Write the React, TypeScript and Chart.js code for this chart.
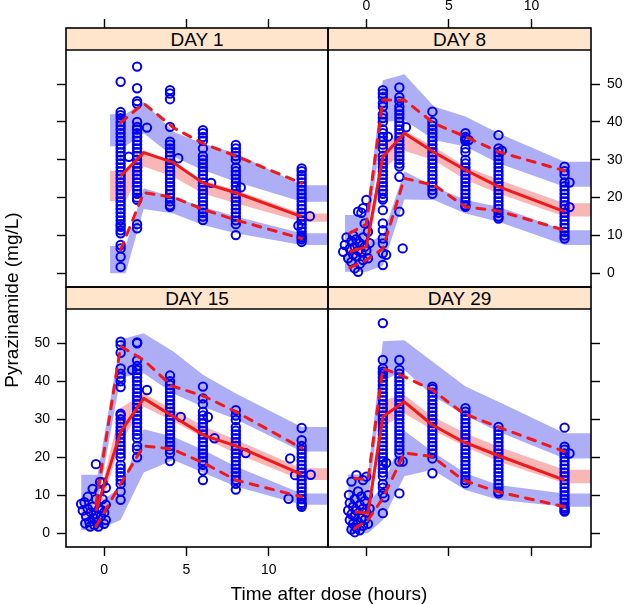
import React, { useEffect, useRef } from 'react';
import { Chart, registerables } from 'chart.js';

Chart.register(...registerables);

// ---------- shared axis data ----------
const X_TICKS = [0, 5, 10];
const Y_TICKS = [0, 10, 20, 30, 40, 50];
const X_RANGE = [-2.32, 13.6];
const Y_RANGE = [-3.6, 64.8];
const NOMINAL_TIMES = [1, 2, 4, 6, 8, 12];
const X_TITLE = 'Time after dose (hours)';
const Y_TITLE = 'Pyrazinamide (mg/L)';

// ---------- DAY 1 ----------
const D1_PRE: number[][] = [];
const D1_T1 = [50.6, 42.6, 41.8, 41, 40, 39, 38, 37, 36, 35, 34, 33, 32, 31, 30, 29, 28, 27, 26, 25, 24, 23, 22, 21, 20, 19, 18, 17, 16, 15, 14, 13, 12.3, 11.4, 10.6, 7.5, 6.6, 4.4, 1.7];
const D1_T2 = [54.6, 48.9, 45.5, 44.8, 40, 38.7, 38, 37, 36, 35, 34, 33, 32, 31, 30, 29, 28, 27, 26, 25, 24, 23, 22, 21, 20, 19.4, 13, 11.9];
const D1_T4 = [48.4, 47.5, 46, 38.7, 34.8, 34, 33, 32, 31, 30, 29, 28, 27, 26, 25, 24, 23, 22, 21, 20, 19, 18, 17.6];
const D1_T6 = [37.8, 37, 36, 35, 33, 31, 30, 29, 28, 27, 26, 25, 24, 23, 22, 21, 20, 19, 18, 17, 16, 15, 14.1];
const D1_T8 = [33.9, 33, 32, 31, 30, 28, 27, 26, 25, 24, 23, 22, 21, 20, 19, 18, 17, 16, 15, 14, 13, 10.1];
const D1_T12 = [27.7, 27, 26, 25, 24, 23, 22, 21, 20, 19, 18, 17, 16, 15, 14, 13, 12, 11, 10, 9.5, 9, 8.3];
const D1_EXTRA = [[1.5, 30.8], [2.6, 38.5], [4.5, 30.4], [6.5, 23.9], [8.3, 22.7], [11.8, 12.6], [12.5, 15.1]];
const D1_BAND_T = [0.36, 1.3, 2.4, 4.2, 6, 8, 12, 14];
const D1_P95_LO = [33.6, 33.6, 37, 30.8, 27.3, 24.2, 18.9, 18.9];
const D1_P95_HI = [42, 42, 45.3, 37.4, 34.3, 31.7, 23.3, 23.3];
const D1_P50_LO = [19.1, 19.1, 28.2, 25.5, 21.1, 18.5, 13.6, 13.6];
const D1_P50_HI = [27.1, 27.1, 32.6, 29, 24.6, 22, 15.8, 15.8];
const D1_P05_LO = [0, 0, 17, 15.8, 12.8, 10.6, 7.5, 7.5];
const D1_P05_HI = [7.2, 7.2, 22.5, 20.2, 17.6, 15, 10.6, 10.6];
const D1_LINE_T = [1.0, 2.4, 4.2, 6, 8, 12];
const D1_MED = [25.7, 31.9, 29.3, 23.9, 21.3, 15.0];
const D1_Q95 = [39.8, 44.9, 38.5, 34.3, 31, 23.8];
const D1_Q05 = [6.2, 21.3, 20.1, 16.9, 14.1, 9.2];

// ---------- DAY 8 ----------
const D8_PRE = [[-1.4, 5.7], [-1.3, 7.5], [-1.2, 9.5], [-1.1, 4], [-1.0, 6.5], [-0.9, 8.5], [-0.9, 3], [-0.8, 10], [-0.8, 5], [-0.7, 1.3], [-0.7, 7], [-0.6, 9], [-0.6, 4.5], [-0.5, 0.4], [-0.5, 6], [-0.5, 16.3], [-0.4, 8], [-0.4, 2.5], [-0.3, 16], [-0.3, 5.5], [-0.2, 17.2], [-0.2, 9.5], [-0.2, 3.5], [-0.1, 13.2], [-0.1, 7], [0.0, 19.4], [0.0, 6], [0.1, 11], [0.1, 4], [0.2, 8]];
const D8_T1 = [48.4, 47.5, 46.5, 45, 44, 42, 41, 40, 38, 37, 36, 35, 34, 33, 31, 30, 29, 28, 27, 26, 25, 24, 23, 22, 21, 20, 19.5, 16.7, 13.2, 11.4, 9.2, 7.9, 5.3, 2.2];
const D8_T2 = [49.1, 46.5, 45.5, 44, 43, 42, 41, 40, 39, 38, 37, 36, 35, 34, 33, 32, 31, 30, 29, 28.2, 25.5, 16.3];
const D8_T4 = [42.7, 40, 39, 38, 37, 36, 35, 34, 33, 32, 31, 30, 29, 28, 27, 26, 25, 24, 23, 22, 21];
const D8_T6 = [37, 36, 35.5, 35, 33, 32, 30, 29, 28, 27, 26, 25, 24, 23, 22, 21, 20, 19, 18, 17.6];
const D8_T8 = [36.5, 33, 32, 31, 30, 29, 28, 27, 26, 25, 24, 23, 22, 21, 20, 19, 18, 17, 16, 15, 14.5];
const D8_T12 = [28.2, 27, 26, 24, 23, 22, 21, 20, 19, 18, 17, 16, 15, 14, 13, 12, 11, 10, 9.2];
const D8_EXTRA = [[1.2, 4.9], [1.3, 36.1], [2.2, 6.6], [2.4, 38.6], [6.2, 35.2], [8.2, 32.4], [12.3, 24], [12.3, 17.5]];
const D8_BAND_T = [-1.3, 0.0, 1.0, 2.3, 4.1, 6, 8, 12, 14];
const D8_P95_LO = [8, 8, 40, 40.5, 35.2, 33.5, 29.1, 22.9, 22.9];
const D8_P95_HI = [15.4, 15.4, 51, 52.6, 44.1, 41.4, 37, 29.5, 29.5];
const D8_P50_LO = [4.5, 4.5, 27.3, 32.4, 29.9, 24.7, 21.1, 15, 15];
const D8_P50_HI = [7.5, 7.5, 34, 37.7, 33.4, 28.2, 24.7, 18.5, 18.5];
const D8_P05_LO = [0.4, 0.4, 2, 19.5, 19.4, 15.8, 13.6, 7.5, 7.5];
const D8_P05_HI = [8, 8, 10, 27, 22.9, 19.4, 17.6, 11.4, 11.4];
const D8_LINE_T = [-1.0, 0.0, 1.0, 2.3, 4.1, 6, 8, 12];
const D8_MED = [5.7, 7.0, 30.8, 37.0, 32.0, 27.3, 22.9, 16.3];
const D8_Q95 = [10.6, 13, 45.8, 45.8, 39.6, 36.1, 32.1, 27.1];
const D8_Q05 = [1.5, 3.5, 6.5, 25.1, 23.3, 17.6, 16.5, 11.4];

// ---------- DAY 15 ----------
const D15_PRE = [[-1.4, 7.7], [-1.3, 6], [-1.2, 8.2], [-1.15, 2.6], [-1.1, 4.5], [-1.0, 9.6], [-1.0, 6.5], [-0.9, 3], [-0.85, 1.8], [-0.8, 5.5], [-0.7, 11.7], [-0.7, 7], [-0.6, 4], [-0.6, 2.2], [-0.5, 18.2], [-0.5, 9], [-0.5, 5], [-0.4, 3], [-0.35, 1.8], [-0.3, 11], [-0.3, 6.5], [-0.25, 13.5], [-0.2, 4.5], [-0.15, 6.1], [-0.1, 13.4], [-0.1, 9], [0.0, 2.5], [0.0, 5.5], [0.1, 12], [0.1, 7.5], [0.1, 3.5]];
const D15_T1 = [50.4, 49.5, 47.5, 43.4, 42, 41, 40, 38.5, 31.5, 31, 30, 29, 28, 27, 26, 25, 24, 23, 22, 21, 20, 18, 17, 16, 15, 14, 13, 11, 8.8];
const D15_T2 = [50.2, 50, 45.5, 44, 43, 42, 41, 40, 39, 38, 37, 36, 35, 34, 33, 32, 31, 30, 29, 28, 27, 26, 25, 23, 22, 20];
const D15_T4 = [41.5, 40, 39, 38, 37, 36, 35, 34, 33, 32, 31, 30, 29, 28, 27, 26, 25, 24, 23, 22, 21, 19];
const D15_T6 = [38.6, 35.5, 34, 32, 31, 30, 29, 28, 27, 26, 25, 24, 23, 22, 21, 20, 19, 18, 16.5, 14];
const D15_T8 = [32.4, 31, 29.8, 28, 27, 26, 25, 24, 23, 22, 21, 20, 19, 18, 17, 16, 15, 14, 13, 11.5];
const D15_T12 = [27.7, 24.5, 23, 22, 21, 20, 19, 18, 17, 16, 15, 14, 13, 12, 11, 10, 9, 8, 7.5, 7];
const D15_EXTRA = [[1.7, 43], [2.6, 37.7], [4.65, 30.6], [6.3, 30.6], [6.7, 25], [8.6, 21.1], [11.2, 9.1], [11.3, 19.7], [11.6, 15.3], [12.55, 15.4]];
const D15_BAND_T = [-1.4, -0.4, 1.0, 2.4, 4.2, 6, 8, 12, 14];
const D15_P95_LO = [8, 8, 41, 42.1, 36.8, 33.3, 30, 21.5, 21.5];
const D15_P95_HI = [15.4, 15.4, 51, 52.6, 47.8, 41.7, 36.8, 28, 28];
const D15_P50_LO = [4, 4, 24, 33.3, 29.5, 25.2, 21, 14, 14];
const D15_P50_HI = [7.6, 7.6, 33, 36.8, 32.5, 28.2, 24.6, 17.1, 17.1];
const D15_P05_LO = [0.9, 0.9, 3.5, 16, 19.3, 16, 12.3, 7.5, 7.5];
const D15_P05_HI = [8, 8, 12, 27.4, 25.4, 22, 17.6, 10.5, 10.5];
const D15_LINE_T = [-0.5, 1.0, 2.4, 4.1, 6.1, 8.0, 12];
const D15_MED = [5.9, 26.7, 35.5, 31, 25.7, 23, 15.5];
const D15_Q95 = [7.8, 49.2, 45.6, 38.8, 36, 32, 22.4];
const D15_Q05 = [1.8, 13, 23, 22.2, 18.4, 14, 9.6];

// ---------- DAY 29 ----------
const D29_PRE = [[-1.1, 6], [-1.05, 10.1], [-1.0, 3.5], [-1.0, 8], [-0.9, 13.6], [-0.9, 5], [-0.9, 1], [-0.8, 7], [-0.8, 2.5], [-0.7, 9], [-0.7, 4.5], [-0.7, 0.3], [-0.6, 15.3], [-0.6, 6], [-0.6, 1.5], [-0.5, 11], [-0.5, 3], [-0.4, 7.5], [-0.4, 0.8], [-0.3, 9.7], [-0.3, 4], [-0.2, 14], [-0.2, 6.5], [-0.2, 2], [-0.1, 8.5], [-0.1, 3.5], [0.0, 14.9], [0.0, 5.5], [0.1, 10], [0.1, 2.5], [0.2, 6.5]];
const D29_T1 = [55.3, 45.6, 43.4, 42.5, 42, 41, 40, 39, 38, 37, 36, 35, 34, 33, 32, 31, 30, 29, 28, 27, 26, 25, 24, 23, 22, 21, 20, 19, 18, 17, 16, 15, 13, 12, 10.5, 5.3];
const D29_T2 = [45.6, 43, 42, 41, 40, 39, 38, 37, 36, 35, 34, 33, 32, 31, 30, 29, 28, 27, 26, 25, 24, 23, 22, 21, 18.9, 10.5];
const D29_T4 = [38.6, 38, 37, 36, 35, 34, 33, 32, 31, 30, 29, 28, 27, 26, 25, 24, 23, 22, 21, 19.7, 15.8];
const D29_T6 = [32.9, 32, 31, 30, 29, 28, 27, 26, 25, 24, 23, 22, 21, 20, 19, 18, 17, 16, 15, 14, 13.2];
const D29_T8 = [28, 27, 26, 25, 24, 23, 22, 21, 20, 19, 18, 17, 16, 15, 14, 13, 12, 11, 10.5];
const D29_T12 = [27.8, 22.8, 22, 21, 20, 19, 18, 17, 16, 15, 14, 13, 12, 11, 10, 9, 8, 7, 6.5, 6, 5.7];
const D29_EXTRA = [[1.1, 9.5], [1.2, 18.5], [2.2, 18.9], [12.3, 21]];
const D29_BAND_T = [-1.1, 0.1, 1.0, 2.3, 4.0, 6, 8, 12, 14];
const D29_P95_LO = [8, 8, 40, 43, 36.2, 31, 26.7, 19.7, 19.7];
const D29_P95_HI = [15.5, 15.5, 50.5, 50.8, 45.2, 38.6, 34.6, 26.3, 26.3];
const D29_P50_LO = [4, 4, 28, 31.6, 27.2, 22.8, 18.9, 13.2, 13.2];
const D29_P50_HI = [7.5, 7.5, 35, 36.4, 30.7, 26.3, 22.8, 16.7, 16.7];
const D29_P05_LO = [0, 0, 3.5, 15, 16.7, 11.4, 8.8, 7, 7];
const D29_P05_HI = [8, 8, 12.3, 27, 21.5, 15.8, 12.7, 10.5, 10.5];
const D29_LINE_T = [-0.7, 0.1, 1.0, 2.3, 4.0, 5.85, 7.9, 12];
const D29_MED = [5.7, 5.3, 30.7, 34.6, 28.5, 24.1, 20.6, 14];
const D29_Q95 = [14.5, 14, 43.4, 41.2, 37.7, 31.6, 28.1, 21.5];
const D29_Q05 = [1.3, 3.5, 9.2, 21.1, 20.2, 14, 11, 7];

// ---------- styling / layout ----------
const W = 625;
const H = 604;
const STRIP_H = 22;
const FONT = "'Liberation Sans', Arial, Helvetica, sans-serif";
const BLUE_BAND = '#aeaef6';
const PINK_BAND = '#f8b6b6';
const OBS_BLUE = '#0000f0';
const RED = '#f01818';
const STRIP_BG = '#ffe5cc';

type Panel = {
  title: string;
  pre: number[][];
  cols: number[][];
  extra: number[][];
  bandT: number[];
  p95lo: number[]; p95hi: number[];
  p50lo: number[]; p50hi: number[];
  p05lo: number[]; p05hi: number[];
  lineT: number[];
  med: number[]; q95: number[]; q05: number[];
};

const PANELS: Panel[] = [
  { title: 'DAY 1', pre: D1_PRE, cols: [D1_T1, D1_T2, D1_T4, D1_T6, D1_T8, D1_T12], extra: D1_EXTRA, bandT: D1_BAND_T, p95lo: D1_P95_LO, p95hi: D1_P95_HI, p50lo: D1_P50_LO, p50hi: D1_P50_HI, p05lo: D1_P05_LO, p05hi: D1_P05_HI, lineT: D1_LINE_T, med: D1_MED, q95: D1_Q95, q05: D1_Q05 },
  { title: 'DAY 8', pre: D8_PRE, cols: [D8_T1, D8_T2, D8_T4, D8_T6, D8_T8, D8_T12], extra: D8_EXTRA, bandT: D8_BAND_T, p95lo: D8_P95_LO, p95hi: D8_P95_HI, p50lo: D8_P50_LO, p50hi: D8_P50_HI, p05lo: D8_P05_LO, p05hi: D8_P05_HI, lineT: D8_LINE_T, med: D8_MED, q95: D8_Q95, q05: D8_Q05 },
  { title: 'DAY 15', pre: D15_PRE, cols: [D15_T1, D15_T2, D15_T4, D15_T6, D15_T8, D15_T12], extra: D15_EXTRA, bandT: D15_BAND_T, p95lo: D15_P95_LO, p95hi: D15_P95_HI, p50lo: D15_P50_LO, p50hi: D15_P50_HI, p05lo: D15_P05_LO, p05hi: D15_P05_HI, lineT: D15_LINE_T, med: D15_MED, q95: D15_Q95, q05: D15_Q05 },
  { title: 'DAY 29', pre: D29_PRE, cols: [D29_T1, D29_T2, D29_T4, D29_T6, D29_T8, D29_T12], extra: D29_EXTRA, bandT: D29_BAND_T, p95lo: D29_P95_LO, p95hi: D29_P95_HI, p50lo: D29_P50_LO, p50hi: D29_P50_HI, p05lo: D29_P05_LO, p05hi: D29_P05_HI, lineT: D29_LINE_T, med: D29_MED, q95: D29_Q95, q05: D29_Q05 },
];

type Lay = { area: number[]; xPos: 'top' | 'bottom'; yPos: 'left' | 'right'; xLabels: boolean; yLabels: boolean };
const LAYOUTS: Lay[] = [
  { area: [66, 28, 328, 287], xPos: 'top', yPos: 'left', xLabels: false, yLabels: false },
  { area: [328, 28, 591, 287], xPos: 'top', yPos: 'right', xLabels: true, yLabels: true },
  { area: [66, 287, 328, 547], xPos: 'bottom', yPos: 'left', xLabels: true, yLabels: true },
  { area: [328, 287, 591, 547], xPos: 'bottom', yPos: 'right', xLabels: false, yLabels: false },
];

const pts = (xs: number[], ys: number[]) => xs.map((x, i) => ({ x, y: ys[i] }));

function buildDatasets(p: Panel): any[] {
  const obs = [
    ...p.pre.map(([x, y]) => ({ x, y })),
    ...NOMINAL_TIMES.flatMap((t, i) => p.cols[i].map((y) => ({ x: t, y }))),
    ...p.extra.map(([x, y]) => ({ x, y })),
  ];
  const band = (lo: number[], hi: number[], color: string, order: number) => [
    { type: 'line', data: pts(p.bandT, lo), borderColor: 'transparent', borderWidth: 0, pointRadius: 0, fill: false, order },
    { type: 'line', data: pts(p.bandT, hi), borderColor: 'transparent', borderWidth: 0, pointRadius: 0, fill: '-1', backgroundColor: color, order },
  ];
  const redLine = (ys: number[], dashed: boolean) => ({
    type: 'line',
    data: pts(p.lineT, ys),
    borderColor: RED,
    borderWidth: 3,
    borderDash: dashed ? [8, 8] : [],
    borderCapStyle: dashed ? 'round' : 'butt',
    borderJoinStyle: 'round',
    pointRadius: 0,
    fill: false,
    order: 1,
  });
  return [
    ...band(p.p95lo, p.p95hi, BLUE_BAND, 5),
    ...band(p.p05lo, p.p05hi, BLUE_BAND, 5),
    ...band(p.p50lo, p.p50hi, PINK_BAND, 4),
    {
      type: 'scatter',
      data: obs,
      pointStyle: 'circle',
      pointRadius: 4.2,
      pointBorderWidth: 2,
      pointBackgroundColor: 'rgba(0,0,0,0)',
      pointBorderColor: OBS_BLUE,
      borderColor: OBS_BLUE,
      backgroundColor: 'rgba(0,0,0,0)',
      order: 2,
    },
    redLine(p.med, false),
    redLine(p.q95, true),
    redLine(p.q05, true),
  ];
}

const framePlugin = {
  id: 'latticeFrame',
  afterDatasetsDraw(chart: any) {
    const { ctx, chartArea: a } = chart;
    ctx.save();
    ctx.strokeStyle = '#000';
    ctx.lineWidth = 1.6;
    ctx.strokeRect(a.left, a.top, a.right - a.left, a.bottom - a.top);
    ctx.beginPath();
    ctx.moveTo(a.left, a.top + STRIP_H);
    ctx.lineTo(a.right, a.top + STRIP_H);
    ctx.stroke();
    ctx.restore();
  },
};

function PanelChart({ panel, lay }: { panel: Panel; lay: Lay }) {
  const ref = useRef<HTMLCanvasElement>(null);
  useEffect(() => {
    const [l, t, r, b] = lay.area;
    const yAxisW = lay.yPos === 'left' ? l : W - r;
    const xAxisH = lay.xPos === 'top' ? t : H - b;
    const grid = { display: true, drawOnChartArea: false, drawTicks: true, tickLength: 9, tickColor: '#000', tickWidth: 1.4 };
    const tickFont = { size: 14, family: FONT };
    const chart = new Chart(ref.current as HTMLCanvasElement, {
      type: 'scatter',
      data: { datasets: buildDatasets(panel) },
      options: {
        responsive: false,
        animation: false,
        events: [],
        layout: {
          autoPadding: false,
          padding: {
            left: lay.yPos === 'left' ? 0 : l,
            right: lay.yPos === 'right' ? 0 : W - r,
            top: lay.xPos === 'top' ? 0 : t,
            bottom: lay.xPos === 'bottom' ? 0 : H - b,
          },
        },
        plugins: { legend: { display: false }, tooltip: { enabled: false }, title: { display: false } },
        scales: {
          x: {
            type: 'linear',
            position: lay.xPos,
            min: X_RANGE[0],
            max: X_RANGE[1],
            afterBuildTicks: (s: any) => { s.ticks = X_TICKS.map((value) => ({ value })); },
            afterFit: (s: any) => { s.height = xAxisH; },
            grid,
            border: { display: false },
            ticks: { display: lay.xLabels, color: '#000', font: tickFont, padding: lay.xPos === 'top' ? 4 : 6, maxRotation: 0, autoSkip: false },
          },
          y: {
            type: 'linear',
            position: lay.yPos,
            min: Y_RANGE[0],
            max: Y_RANGE[1],
            afterBuildTicks: (s: any) => { s.ticks = Y_TICKS.map((value) => ({ value })); },
            afterFit: (s: any) => { s.width = yAxisW; },
            grid,
            border: { display: false },
            ticks: { display: lay.yLabels, color: '#000', font: tickFont, padding: 7, autoSkip: false },
          },
        },
      } as any,
      plugins: [framePlugin],
    } as any);
    return () => chart.destroy();
  }, [panel, lay]);
  return (
    <canvas
      ref={ref}
      width={W}
      height={H}
      style={{ position: 'absolute', left: 0, top: 0, width: W, height: H }}
    />
  );
}

export default function App() {
  const textBase: React.CSSProperties = { position: 'absolute', fontFamily: FONT, color: '#000', whiteSpace: 'nowrap' };
  return (
    <div style={{ position: 'absolute', left: 0, top: 0, width: W, height: H, background: '#fff', overflow: 'hidden' }}>
      {PANELS.map((p, i) => {
        const [l, t, r] = LAYOUTS[i].area;
        return (
          <div
            key={'strip' + i}
            style={{ ...textBase, left: l, top: t, width: r - l, height: STRIP_H, background: STRIP_BG, textAlign: 'center', fontSize: 19, lineHeight: '24px' }}
          >
            {p.title}
          </div>
        );
      })}
      {PANELS.map((p, i) => (
        <PanelChart key={'chart' + i} panel={p} lay={LAYOUTS[i]} />
      ))}
      <div style={{ ...textBase, left: 129, top: 583, width: 400, height: 22, lineHeight: '22px', textAlign: 'center', fontSize: 19 }}>
        {X_TITLE}
      </div>
      <div style={{ ...textBase, left: 12 - 150, top: 300 - 11, width: 300, height: 22, lineHeight: '22px', textAlign: 'center', fontSize: 19, transform: 'rotate(-90deg)' }}>
        {Y_TITLE}
      </div>
    </div>
  );
}
